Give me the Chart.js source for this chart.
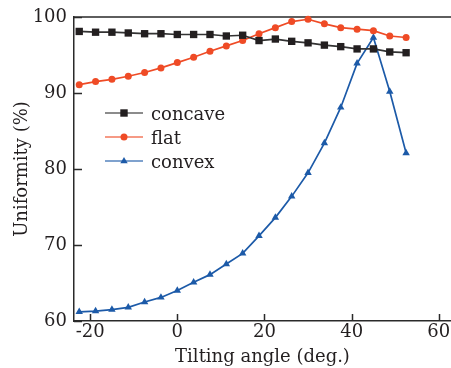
<!DOCTYPE html>
<html>
<head>
<meta charset="utf-8">
<script src="https://cdn.jsdelivr.net/npm/chart.js@4/dist/chart.umd.min.js"></script>
<style>
  body { margin: 0; background: #fff; }
  #wrap { position: relative; width: 451px; height: 368px; overflow: hidden; }
  #legend { position: absolute; left: 105px; top: 101px; font-family: "DejaVu Serif", serif; font-size: 18px; color: #231f20; }
  .row { display: flex; align-items: center; height: 24px; }
  .row svg { margin-right: 8px; }
</style>
</head>
<body>
<div id="wrap">
  <canvas id="chart" width="451" height="368"></canvas>
  <div id="legend"></div>
</div>
<script>
// ====== DATA ======
const angles = [-22.5, -18.75, -15, -11.25, -7.5, -3.75, 0, 3.75, 7.5, 11.25, 15,
                18.75, 22.5, 26.25, 30, 33.75, 37.5, 41.25, 45, 48.75, 52.5];
const concave = [98.1, 98.0, 98.0, 97.9, 97.8, 97.8, 97.7, 97.7, 97.7, 97.5, 97.6,
                 96.9, 97.1, 96.8, 96.6, 96.3, 96.1, 95.8, 95.8, 95.4, 95.3];
const flat = [91.1, 91.5, 91.8, 92.2, 92.7, 93.3, 94.0, 94.7, 95.5, 96.2, 96.9,
              97.8, 98.6, 99.4, 99.7, 99.1, 98.6, 98.4, 98.2, 97.5, 97.3];
const convex = [61.2, 61.3, 61.5, 61.8, 62.5, 63.1, 64.0, 65.1, 66.1, 67.5, 68.9,
                71.2, 73.6, 76.4, 79.5, 83.4, 88.1, 93.9, 97.3, 90.2, 82.1];
const seriesNames = ['concave', 'flat', 'convex'];

// ====== STYLE ======
const axisColor = '#2a2a2a';
const textColor = '#231f20';
const font = { family: 'DejaVu Serif', size: 18 };
const styles = [
    { line: '#333333', fill: '#231f20', shape: 'rect', radius: 5.2 },
    { line: '#ef4b26', fill: '#ef4b26', shape: 'circle', radius: 3.5 },
    { line: '#1c5aa8', fill: '#1c5aa8', shape: 'triangle', radius: 4.3 }
];

function toPoints(ys) {
    return angles.map((a, i) => ({ x: a, y: ys[i] }));
}

// ticks pointing inward + top spine
const insideTicks = {
    id: 'insideTicks',
    beforeDatasetsDraw(chart) {
        const { ctx, chartArea: a, scales: { x, y } } = chart;
        ctx.save();
        ctx.strokeStyle = axisColor;
        ctx.lineWidth = 1.5;
        ctx.beginPath();
        ctx.moveTo(a.left, a.top);
        ctx.lineTo(a.right, a.top);
        x.ticks.forEach(t => {
            const px = Math.round(x.getPixelForValue(t.value)) + 0.5;
            ctx.moveTo(px, a.bottom);
            ctx.lineTo(px, a.bottom - 7);
        });
        y.ticks.forEach(t => {
            const py = Math.round(y.getPixelForValue(t.value)) + 0.5;
            ctx.moveTo(a.left, py);
            ctx.lineTo(a.left + 8, py);
        });
        ctx.stroke();
        ctx.restore();
    }
};

const datasets = [concave, flat, convex].map((ys, i) => ({
    label: seriesNames[i],
    data: toPoints(ys),
    borderColor: styles[i].line,
    backgroundColor: styles[i].fill,
    pointBackgroundColor: styles[i].fill,
    pointBorderColor: styles[i].fill,
    pointStyle: styles[i].shape,
    pointRadius: styles[i].radius,
    borderWidth: 1.7,
    pointBorderWidth: 0,
    tension: 0,
    clip: false
}));

new Chart(document.getElementById('chart'), {
    type: 'line',
    data: { datasets },
    options: {
        responsive: false,
        animation: false,
        devicePixelRatio: 1,
        layout: { autoPadding: false, padding: { top: 17, right: 0, left: 0, bottom: 0 } },
        plugins: { legend: { display: false }, tooltip: { enabled: false } },
        scales: {
            x: {
                type: 'linear',
                min: -23.7,
                max: 62.8,
                border: { color: axisColor, width: 1.5 },
                grid: { display: false, drawTicks: false },
                ticks: { stepSize: 20, includeBounds: false, padding: 1, font, color: textColor },
                title: { display: true, text: 'Tilting angle (deg.)', font, color: textColor, padding: { top: 0, bottom: 0 } },
                afterFit: s => { s.height = 47; s.paddingLeft = 0; s.paddingRight = 0; }
            },
            y: {
                min: 60,
                max: 100,
                border: { color: axisColor, width: 1.5 },
                grid: { display: false, drawTicks: false },
                ticks: { stepSize: 10, padding: 7, font, color: textColor },
                title: { display: true, text: 'Uniformity (%)', font, color: textColor, padding: { top: 12, bottom: 0 } },
                afterFit: s => { s.width = 74; s.paddingTop = 0; s.paddingBottom = 0; }
            }
        }
    },
    plugins: [insideTicks]
});

// ====== LEGEND ======
function markerSvg(st) {
    let m = '';
    if (st.shape === 'rect') m = `<rect x="15.3" y="2.3" width="7.4" height="7.4" fill="${st.fill}"/>`;
    else if (st.shape === 'circle') m = `<circle cx="19" cy="6" r="3.5" fill="${st.fill}"/>`;
    else m = `<polygon points="19,2 22.7,8.3 15.3,8.3" fill="${st.fill}"/>`;
    return `<svg width="38" height="12"><line x1="0" y1="6" x2="38" y2="6" stroke="${st.line}" stroke-opacity="0.75" stroke-width="1.6"/>${m}</svg>`;
}
document.getElementById('legend').innerHTML = seriesNames.map((n, i) =>
    `<div class="row">${markerSvg(styles[i])}<span>${n}</span></div>`).join('');
</script>
</body>
</html>
